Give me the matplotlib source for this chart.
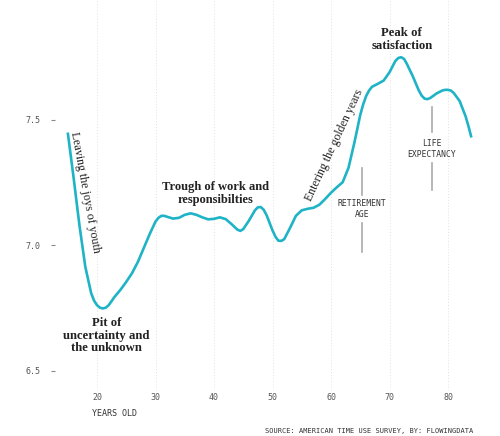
import matplotlib
matplotlib.use("Agg")
import matplotlib.pyplot as plt

# ---- data ----
ages = [
    15, 16, 17, 18, 19, 19.5, 20, 20.5, 21, 21.5, 22, 23, 24,
    25, 26, 27, 28, 29, 30, 30.5, 31, 31.5, 32, 33, 34,
    35, 36, 37, 38, 39, 40, 41, 42, 43, 44, 44.5,
    45, 46, 47, 47.5, 48, 48.5, 49, 50, 50.5, 51, 51.5, 52, 53, 54,
    55, 56, 57, 58, 59, 60, 61, 62, 63, 64,
    65, 65.5, 66, 66.5, 67, 68, 69, 70, 71, 71.5, 72, 72.5, 73, 74,
    75, 75.5, 76, 76.5, 77, 78, 79, 79.5, 80, 80.5, 81, 82, 83, 83.5, 84,
]
satisfaction = [
    7.45, 7.27, 7.08, 6.915, 6.81, 6.78, 6.762, 6.752, 6.749, 6.752, 6.762, 6.795, 6.823,
    6.855, 6.89, 6.935, 6.99, 7.045, 7.095, 7.11, 7.118, 7.118, 7.114, 7.107, 7.11,
    7.122, 7.128, 7.122, 7.112, 7.104, 7.106, 7.112, 7.105, 7.085, 7.063, 7.058,
    7.065, 7.10, 7.14, 7.152, 7.153, 7.142, 7.12, 7.06, 7.035, 7.019, 7.018, 7.025, 7.07, 7.118,
    7.14, 7.146, 7.15, 7.162, 7.185, 7.21, 7.232, 7.252, 7.31, 7.41,
    7.52, 7.562, 7.595, 7.617, 7.632, 7.644, 7.657, 7.69, 7.735, 7.747, 7.75, 7.743, 7.722, 7.673,
    7.618, 7.597, 7.585, 7.583, 7.588, 7.605, 7.617, 7.62, 7.62, 7.617, 7.607, 7.575, 7.515, 7.475, 7.43,
]
x_ticks = [20, 30, 40, 50, 60, 70, 80]
y_ticks = [6.5, 7.0, 7.5]
y_tick_labels = ["6.5", "7.0", "7.5"]
retirement_age = 65.25
life_expectancy = 77.2

LINE = "#1fb3c6"
SERIF = ["Liberation Serif", "DejaVu Serif"]
MONO = ["DejaVu Sans Mono"]
TXT = "#222222"
GRAY = "#555555"

fig = plt.figure(figsize=(5.0, 4.36), dpi=100)
ax = fig.add_axes([0.11, 0.1055, 0.85, 0.8945])
ax.set_xlim(12.82, 85.47)
ax.set_ylim(6.424, 7.978)

for s in ax.spines.values():
    s.set_visible(False)

ax.set_xticks(x_ticks)
ax.set_xticklabels([str(t) for t in x_ticks], family=MONO, fontsize=6, color=GRAY)
ax.set_yticks(y_ticks)
ax.set_yticklabels(y_tick_labels, family=MONO, fontsize=6, color=GRAY)
ax.tick_params(axis="x", length=0, pad=2.5)
ax.tick_params(axis="y", length=3.2, width=0.8, color="#888888", pad=7.5)

ax.grid(axis="x", color="#e2e2e2", linestyle=(0, (1, 2)), linewidth=0.7)
ax.set_axisbelow(True)

ax.plot(ages, satisfaction, color=LINE, linewidth=1.9,
        solid_joinstyle="round", solid_capstyle="butt", zorder=3)

# annotations
ax.text(21.6, 6.64, "Pit of\nuncertainty and\nthe unknown", family=SERIF,
        fontsize=9.2, fontweight="bold", color=TXT, ha="center", va="center",
        linespacing=1.05)
ax.text(40.2, 7.207, "Trough of work and\nresponsibilties", family=SERIF,
        fontsize=9.0, fontweight="bold", color=TXT, ha="center", va="center",
        linespacing=1.05)
ax.text(72.1, 7.821, "Peak of\nsatisfaction", family=SERIF,
        fontsize=9.2, fontweight="bold", color=TXT, ha="center", va="center",
        linespacing=1.05)
ax.text(18.0, 7.211, "Leaving the joys of youth", family=SERIF,
        fontsize=8.6, color=TXT, ha="center", va="center", rotation=-79.5,
        rotation_mode="anchor")
ax.text(60.6, 7.40, "Entering the golden years", family=SERIF,
        fontsize=8.6, color=TXT, ha="center", va="center", rotation=65,
        rotation_mode="anchor")

# reference markers
ax.plot([retirement_age, retirement_age], [7.309, 7.201], color="#aaaaaa", lw=1.2)
ax.plot([retirement_age, retirement_age], [7.089, 6.974], color="#aaaaaa", lw=1.2)
ax.text(retirement_age, 7.145, "RETIREMENT\nAGE", family=MONO, fontsize=5.8,
        color="#333333", ha="center", va="center", linespacing=1.25)
ax.plot([life_expectancy, life_expectancy], [7.552, 7.452], color="#aaaaaa", lw=1.2)
ax.plot([life_expectancy, life_expectancy], [7.328, 7.221], color="#aaaaaa", lw=1.2)
ax.text(life_expectancy, 7.384, "LIFE\nEXPECTANCY", family=MONO, fontsize=5.8,
        color="#333333", ha="center", va="center", linespacing=1.25)

fig.text(92 / 500, 1 - 413 / 436, "YEARS OLD", family=MONO, fontsize=6,
         color="#333333", ha="left", va="center")
fig.text(473 / 500, 1 - 431 / 436, "SOURCE: AMERICAN TIME USE SURVEY, BY: FLOWINGDATA",
         family=MONO, fontsize=5.0, color="#333333", ha="right", va="center")

fig.savefig("out.png", dpi=100)
